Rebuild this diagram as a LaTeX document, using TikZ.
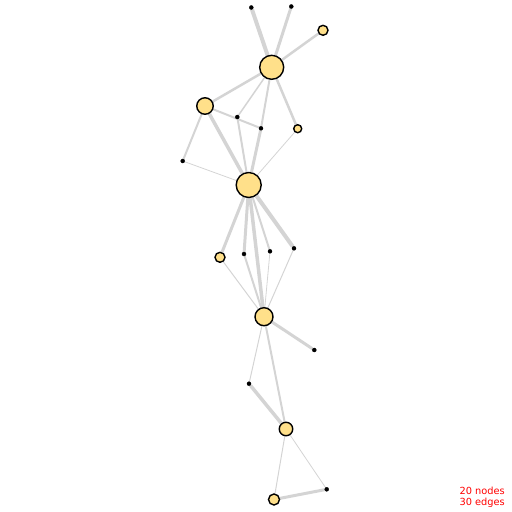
\documentclass[tikz,border=0pt]{standalone}
\usepackage{fontspec}
\setmainfont{DejaVu Sans}
\usetikzlibrary{backgrounds}
\definecolor{nodefill}{HTML}{FFE08A}
\definecolor{edgegray}{HTML}{D4D4D4}
\begin{document}
\begin{tikzpicture}[x=1pt,y=-1pt,
  vtx/.style={circle,draw=black,line width=1.4pt,fill=nodefill,inner sep=0pt,minimum size=#1},
  dotv/.style={circle,draw=black,fill=black,inner sep=0pt,minimum size=4pt},
  edge/.style={draw=edgegray,line width=#1}]
\useasboundingbox (0,0) rectangle (512,512);
\node[dotv] (n1) at (251.3,7.5) {};
\node[dotv] (n2) at (291.3,6.5) {};
\node[vtx=10pt] (n3) at (323,30.3) {};
\node[vtx=24pt] (n4) at (271.7,67.3) {};
\node[vtx=16.5pt] (n5) at (205,106) {};
\node[dotv] (n6) at (237.3,117) {};
\node[dotv] (n7) at (261,128.3) {};
\node[vtx=8pt] (n8) at (297.7,128.7) {};
\node[dotv] (n9) at (182.7,161) {};
\node[vtx=25pt] (n10) at (248.7,185) {};
\node[vtx=10pt] (n11) at (220,257.3) {};
\node[dotv] (n12) at (244,254) {};
\node[dotv] (n13) at (270,251.3) {};
\node[dotv] (n14) at (294,248.3) {};
\node[vtx=18pt] (n15) at (264,316.7) {};
\node[dotv] (n16) at (314.3,350) {};
\node[dotv] (n17) at (249,383.7) {};
\node[vtx=13.5pt] (n18) at (286,429) {};
\node[vtx=11pt] (n19) at (274,499.5) {};
\node[dotv] (n20) at (326.7,489.3) {};
\begin{scope}[on background layer]
\draw[edge=4] (n4) -- (n1);
\draw[edge=3] (n4) -- (n2);
\draw[edge=2.5] (n4) -- (n3);
\draw[edge=2.5] (n4) -- (n5);
\draw[edge=1.5] (n4) -- (n6);
\draw[edge=2] (n4) -- (n7);
\draw[edge=2.5] (n4) -- (n8);
\draw[edge=3] (n7) -- (n10);
\draw[edge=2] (n5) -- (n7);
\draw[edge=2] (n5) -- (n9);
\draw[edge=3.5] (n5) -- (n10);
\draw[edge=2] (n6) -- (n10);
\draw[edge=0.8] (n8) -- (n10);
\draw[edge=0.8] (n9) -- (n10);
\draw[edge=3] (n10) -- (n11);
\draw[edge=3] (n10) -- (n12);
\draw[edge=3.5] (n10) -- (n15);
\draw[edge=2] (n10) -- (n13);
\draw[edge=4] (n10) -- (n14);
\draw[edge=1] (n11) -- (n15);
\draw[edge=2] (n12) -- (n15);
\draw[edge=0.8] (n13) -- (n15);
\draw[edge=1] (n14) -- (n15);
\draw[edge=3] (n15) -- (n16);
\draw[edge=1] (n15) -- (n17);
\draw[edge=2] (n15) -- (n18);
\draw[edge=3.5] (n17) -- (n18);
\draw[edge=1] (n18) -- (n19);
\draw[edge=0.8] (n18) -- (n20);
\draw[edge=3] (n19) -- (n20);
\end{scope}
\node[text=red,font=\fontsize{9.8}{10.8}\selectfont,align=right,anchor=south east,inner sep=0pt] (info) at (505,507.5) {20 nodes\\30 edges};
\end{tikzpicture}
\end{document}
